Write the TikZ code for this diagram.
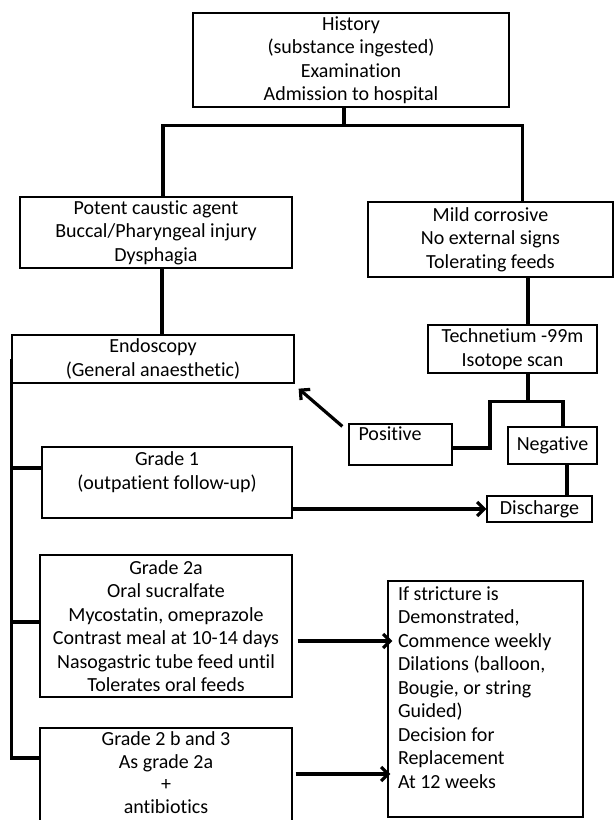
\documentclass[tikz,border=0pt]{standalone}
\usepackage{fontspec}
\setmainfont{Carlito}[Ligatures=NoCommon]
\usetikzlibrary{calc, arrows.meta}

\begin{document}
\begin{tikzpicture}[x=1pt, y=-1pt,
        box/.style={draw, line width=1.3pt, inner xsep=3pt, inner ysep=1pt, align=center, font=\fontsize{20}{23.5}\selectfont},
        link/.style={line width=3.2pt},
        arr/.style={line width=3.2pt, -{Straight Barb[length=7pt, width=14pt]}}]
    \useasboundingbox (0,0) rectangle (615,820);
    \clip (0,0) rectangle (615,820);
    \node[box, minimum width=316, minimum height=94] (hist) at (351,60) {History\\(substance ingested)\\Examination\\Admission to hospital};
    \node[box, minimum width=272, minimum height=71] (pot) at (156,232.5) {Potent caustic agent\\Buccal/Pharyngeal injury\\Dysphagia};
    \node[box, minimum width=245, minimum height=75] (mild) at (490.5,239.5) {Mild corrosive\\No external signs\\Tolerating feeds};
    \node[box, minimum width=282, minimum height=48] (endo) at (153,359) {Endoscopy\\(General anaesthetic)};
    \node[box, minimum width=169, minimum height=48] (tech) at (512.5,349) {Technetium -99m\\Isotope scan};
    \node[box, minimum width=103, minimum height=41,
        label={[anchor=north west, inner sep=0pt, xshift=10, yshift=-3, font=\fontsize{20}{23.5}\selectfont]north west:Positive}] (pos) at (400.5,444.5) {};
    \node[box, minimum width=89, minimum height=37] (neg) at (552.5,445.5) {Negative};
    \node[box, minimum width=105, minimum height=26, inner ysep=0pt] (dis) at (539.5,509) {Discharge};
    \node[box, minimum width=250, minimum height=71] (g1) at (167,482.5) {Grade 1\\(outpatient follow-up)\\\mbox{}};
    \node[box, minimum width=252, minimum height=142] (g2a) at (166,626) {Grade 2a\\Oral sucralfate\\Mycostatin, omeprazole\\Contrast meal at 10-14 days\\Nasogastric tube feed until\\Tolerates oral feeds};
    \node[box, minimum width=252, minimum height=112, font=\fontsize{20}{22.5}\selectfont] (g2b) at (166,784) {Grade 2 b and 3\\As grade 2a\\+\\antibiotics\\\mbox{}};
    \node[box, minimum width=195, minimum height=236, inner xsep=10pt, text width=175pt, align=flush left] (str) at (485.5,699) {If stricture is\\Demonstrated,\\Commence weekly\\Dilations (balloon,\\Bougie, or string\\Guided)\\Decision for\\Replacement\\At 12 weeks\\\mbox{}};
    \coordinate (bus) at ($([xshift=-7]hist.south)+(0,18)$);
    \draw[link] ([xshift=-7]hist.south) -- (bus);
    \draw[link] ([xshift=7]pot.north) |- (bus) -| ([xshift=32]mild.north);
    \draw[link] ([xshift=6]pot.south) -- ([xshift=9]endo.north);
    \coordinate (tdrop) at ([xshift=15.5]tech.north);
    \draw[link] (tdrop |- mild.south) -- (tdrop);
    \coordinate (tjoin) at ([xshift=15.5, yshift=-28]tech.south);
    \draw[link] ([xshift=15.5]tech.south) -- (tjoin);
    \draw[link] ([yshift=-3.5]pos.east) -| ([xshift=-38]tjoin) -| ([xshift=10.5]neg.north);
    \draw[link] ([xshift=14.5]neg.south) -- ([xshift=14.5]neg.south |- dis.north);
    \draw[arr] ([xshift=-6, yshift=-3]pos.north west) -- ([xshift=4, yshift=-5]endo.south east);
    \draw[arr] (g1.east |- dis.west) -- (dis.west);
    \coordinate (b1) at ([yshift=14.5]g1.west);
    \coordinate (b2) at ([yshift=4]g2a.west);
    \coordinate (b3) at ([yshift=26]g2b.west);
    \draw[link] (endo.west) |- (b3);
    \draw[link] (b1 -| endo.west) -- (b1);
    \draw[link] (b2 -| endo.west) -- (b2);
    \draw[arr] ([xshift=5, yshift=-15]g2a.east) -- ([xshift=5, yshift=-15]g2a.east -| str.west);
    \draw[arr] ([xshift=3, yshift=10]g2b.east) -- ([xshift=3, yshift=10]g2b.east -| str.west);
\end{tikzpicture}
\end{document}
